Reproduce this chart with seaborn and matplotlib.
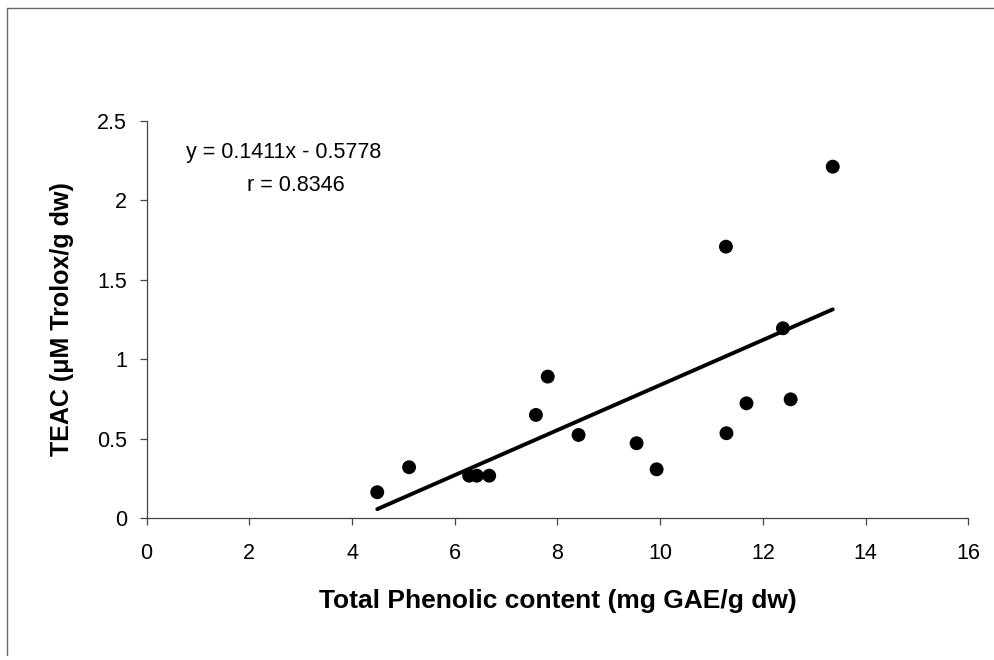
import matplotlib
matplotlib.use("Agg")
import matplotlib.pyplot as plt
import numpy as np
import pandas as pd
import seaborn as sns
from matplotlib.lines import Line2D

# values
phenolic = [4.49, 5.11, 6.28, 6.43, 6.67, 7.58, 7.81, 8.41, 9.54, 9.93,
            11.28, 11.29, 11.68, 12.39, 12.54, 13.36]
teac = [0.164, 0.321, 0.268, 0.268, 0.268, 0.650, 0.891, 0.524, 0.472, 0.308,
        1.708, 0.535, 0.723, 1.195, 0.748, 2.211]
x_ticks = [0, 2, 4, 6, 8, 10, 12, 14, 16]
y_ticks = [0, 0.5, 1, 1.5, 2, 2.5]
y_tick_labels = ["0", "0.5", "1", "1.5", "2", "2.5"]
eq_text = "y = 0.1411x - 0.5778"
r_text = "r = 0.8346"

df = pd.DataFrame({"phenolic": phenolic, "teac": teac})

sns.set_theme(style="white")
plt.rcParams["font.family"] = ["Liberation Sans", "DejaVu Sans"]
plt.rcParams["text.color"] = "black"
plt.rcParams["axes.labelcolor"] = "black"

fig = plt.figure(figsize=(9.95, 6.6), dpi=100)
ax = fig.add_axes([0.1474, 0.2147, 0.8258, 0.6024])

sns.regplot(data=df, x="phenolic", y="teac", ax=ax, ci=None, truncate=True,
            scatter_kws=dict(s=100, color="black", edgecolor="none", alpha=1),
            line_kws=dict(color="black", linewidth=2.8))

ax.set_xlim(0, 16)
ax.set_ylim(0, 2.5)
ax.set_xticks(x_ticks)
ax.set_xticklabels([str(t) for t in x_ticks])
ax.set_yticks(y_ticks)
ax.set_yticklabels(y_tick_labels)

for side in ["top", "right"]:
    ax.spines[side].set_visible(False)
for side in ["left", "bottom"]:
    ax.spines[side].set_color("#444444")
    ax.spines[side].set_linewidth(0.9)

ax.tick_params(axis="x", direction="out", length=5, width=0.9, color="#444444",
               pad=13, labelsize=15.5, labelcolor="black", bottom=True)
ax.tick_params(axis="y", direction="out", length=5, width=0.9, color="#444444",
               pad=9, labelsize=15.5, labelcolor="black", left=True)

ax.set_xlabel("Total Phenolic content (mg GAE/g dw)", fontsize=19,
              fontweight="bold", labelpad=18)
ax.set_ylabel("TEAC (μM Trolox/g dw)", fontsize=18, fontweight="bold",
              labelpad=17)

ax.text(0.1665, 0.921, eq_text, transform=ax.transAxes, ha="center",
        va="center", fontsize=15.5)
ax.text(0.1817, 0.838, r_text, transform=ax.transAxes, ha="center",
        va="center", fontsize=15.5)

# chart frame (left and top edges of the scanned chart area)
fig.add_artist(Line2D([7 / 995, 7 / 995], [1 - 655 / 660, 1 - 8 / 660],
                      transform=fig.transFigure, color="#666666", lw=1))
fig.add_artist(Line2D([7 / 995, 1.0], [1 - 8 / 660, 1 - 8 / 660],
                      transform=fig.transFigure, color="#666666", lw=1))

fig.savefig("out.png", dpi=100, facecolor="white")
